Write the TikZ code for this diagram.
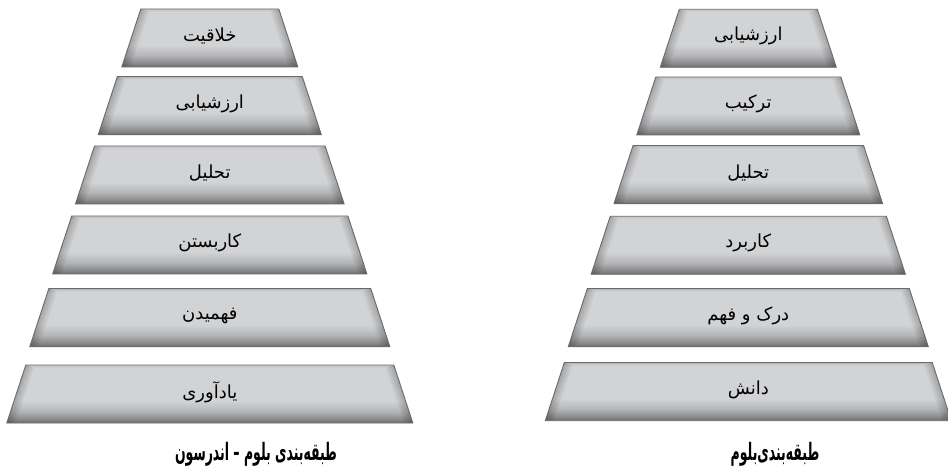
\documentclass[tikz,border=0pt]{standalone}
\usepackage{fontspec}
\newfontfamily\arabicfont[Script=Arabic]{DejaVu Sans}
\TeXXeTstate=1
\definecolor{trapbase}{HTML}{D2D3D5}
\definecolor{trapmid}{HTML}{B4B5B7}
\definecolor{trapdark}{HTML}{8E8E90}
\definecolor{trapdeep}{HTML}{6F6F70}
\definecolor{trapedge}{HTML}{6A6A6A}
\pgfdeclareverticalshading{trapshade}{100bp}{color(0bp)=(trapdeep); color(25bp)=(trapdeep); color(29bp)=(trapdark); color(35bp)=(trapmid); color(44bp)=(trapbase); color(100bp)=(trapbase)}
\tikzset{
  traplabel/.style={font=\arabicfont\fontsize{18}{21}\selectfont, text=black, inner sep=0pt},
  traptitle/.style={font=\arabicfont\bfseries\fontsize{24}{28}\selectfont, text=black, inner sep=0pt, xscale=0.52, transform shape},
}
% #1 cx, #2 ytop, #3 half top width, #4 node name, #5 text
\newcommand\trapbox[5]{%
  \path[shading=trapshade] ({#1-#3},#2) -- ({#1+#3},#2) -- ({#1+#3+19},{#2+58}) -- ({#1-#3-19},{#2+58}) -- cycle;
  \begin{scope}
    \clip ({#1-#3},#2) -- ({#1+#3},#2) -- ({#1+#3+19},{#2+58}) -- ({#1-#3-19},{#2+58}) -- cycle;
    \foreach \w in {2,4,...,18}{
      \draw[line width=\w pt, black, draw opacity=0.022] ({#1-#3},#2) -- ({#1-#3-19},{#2+58});
      \draw[line width=\w pt, black, draw opacity=0.022] ({#1+#3},#2) -- ({#1+#3+19},{#2+58});
    }
    \foreach \w in {2,4,6}{
      \draw[line width=\w pt, black, draw opacity=0.02] ({#1-#3},#2) -- ({#1+#3},#2);
    }
  \end{scope}
  \draw[trapedge, line width=0.9pt, line join=miter] ({#1-#3},#2) -- ({#1+#3},#2) -- ({#1+#3+19},{#2+58}) -- ({#1-#3-19},{#2+58}) -- cycle;
  \node[traplabel] (#4) at (#1,{#2+27}) {#5};
}
\begin{document}
\begin{tikzpicture}[x=1pt,y=-1pt]
\useasboundingbox[fill=white] (0,0) rectangle (948,470);
% left pyramid (Bloom - Anderson)
\trapbox{209.8}{9}{69}{la}{\beginR خلاقیت\endR}
\trapbox{209.8}{76.7}{92.5}{lb}{\beginR ارزشیابی\endR}
\trapbox{209.8}{146}{115.3}{lc}{\beginR تحلیل\endR}
\trapbox{209.8}{216}{138.1}{ld}{\beginR کاربستن\endR}
\trapbox{209.8}{288.7}{161}{le}{\beginR فهمیدن\endR}
\trapbox{209.8}{365}{184}{lf}{\beginR یادآوری\endR}
% right pyramid (Bloom)
\trapbox{748.3}{9.3}{69}{ra}{\beginR ارزشیابی\endR}
\trapbox{748.3}{77}{92.5}{rb}{\beginR ترکیب\endR}
\trapbox{748.3}{145.7}{115.3}{rc}{\beginR تحلیل\endR}
\trapbox{748.3}{216.3}{138.1}{rd}{\beginR کاربرد\endR}
\trapbox{748.3}{288.7}{161}{re}{\beginR درک و فهم\endR}
\trapbox{748.3}{362.7}{184}{rf}{\beginR دانش\endR}
% titles
\node[traptitle] (ltitle) at (256,454) {\beginR طبقه‌بندی بلوم – اندرسون\endR};
\node[traptitle] (rtitle) at (775,454) {\beginR طبقه‌بندی‌بلوم\endR};
\end{tikzpicture}
\end{document}
